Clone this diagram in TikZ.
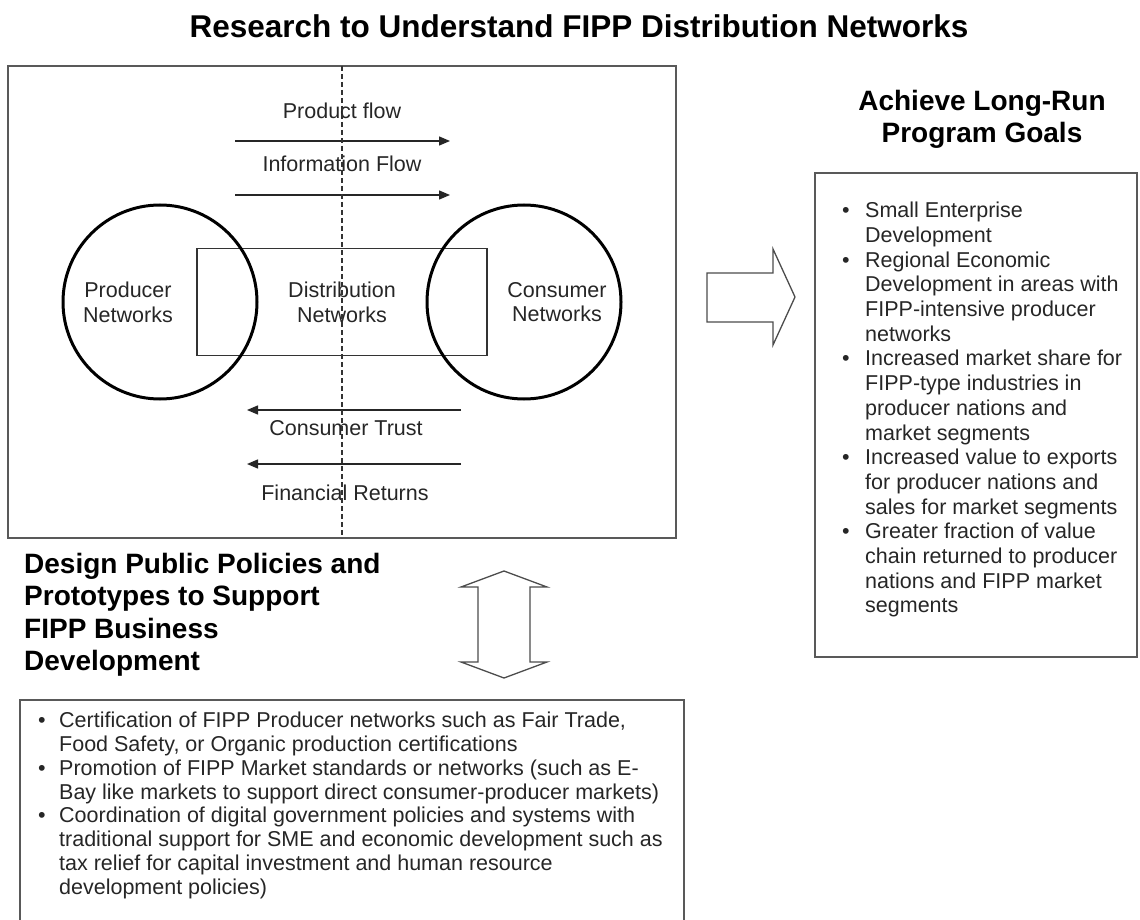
\documentclass[tikz,border=0pt]{standalone}
\usepackage{fontspec}
\setmainfont{Liberation Sans}
\usetikzlibrary{arrows.meta}

\newcommand\bul{\makebox[23pt][l]{\textbullet}}
\newcommand\ind{\hspace*{23pt}}
\newcommand\bulb{\makebox[21pt][l]{\textbullet}}
\newcommand\indb{\hspace*{21pt}}

\begin{document}
\begin{tikzpicture}
  [x=1pt,y=-1pt,
   every node/.style={inner sep=0pt,text=black!85},
   body/.style={font=\fontsize{21.5}{24.7}\selectfont},
   bodyb/.style={font=\fontsize{21.5}{23.8}\selectfont},
   head/.style={font=\fontsize{28}{32.3}\selectfont\bfseries,text=black},
   flow/.style={line width=1.4pt,black!85,-{Triangle[length=11pt,width=9pt]}},
   net/.style={circle,draw=black,line width=3pt,minimum size=194pt},
   frame/.style={draw=black!65,line width=2pt},
   fat/.style={draw=black!70,line width=1.3pt,line join=miter}]
  \clip (0,0) rectangle (1140,920);

  \node[font=\fontsize{31.5}{36}\selectfont\bfseries,text=black,anchor=base] (title) at (579,38)
    {Research to Understand FIPP Distribution Networks};

  % research box
  \draw[frame] (8,66) rectangle (676,538);
  \node[body,draw=black!80,line width=1.3pt,minimum width=290pt,minimum height=107pt,align=center]
    (dist) at (342,302) {Distribution\\Networks};
  \node[net] (prodc) at (160,302) {};
  \node[net] (consc) at (524,302) {};
  \node[body,align=center] (prod) at (128,302) {Producer\\Networks};
  \node[body,align=center] (cons) at (557,302) {Consumer\\Networks};

  \coordinate (pf0) at (235,141); \coordinate (pf1) at (450,141);
  \coordinate (if0) at (235,195); \coordinate (if1) at (450,195);
  \coordinate (ct0) at (461,410); \coordinate (ct1) at (247,410);
  \coordinate (fr0) at (461,464); \coordinate (fr1) at (247,464);
  \foreach \from/\to in {pf0/pf1,if0/if1,ct0/ct1,fr0/fr1}
    \draw[flow] (\from) -- (\to);

  \node[body] (pflow) at (342,111) {Product flow};
  \node[body] (iflow) at (342,164) {Information Flow};
  \node[body] (trust) at (346,428) {Consumer Trust};
  \node[body] (returns) at (345,493) {Financial Returns};

  \coordinate (cut0) at (342,66); \coordinate (cut1) at (342,538);
  \draw[black!80,line width=1.2pt,dash pattern=on 5pt off 3pt] (cut0) -- (cut1);

  % goals
  \node[head,align=center] (goalhd) at (982,119) {Achieve Long-Run\\Program Goals};
  \draw[fat] (707,273) -- (773,273) -- (773,249) -- (795,297) -- (773,345) -- (773,322) -- (707,322) -- cycle;
  \draw[frame] (815,173) rectangle (1137,657);
  \node[body,align=left,anchor=north west] (goals) at (842,202)
    {\bul Small Enterprise\\
     \ind Development\\
     \bul Regional Economic\\
     \ind Development in areas with\\
     \ind FIPP-intensive producer\\
     \ind networks\\
     \bul Increased market share for\\
     \ind FIPP-type industries in\\
     \ind producer nations and\\
     \ind market segments\\
     \bul Increased value to exports\\
     \ind for producer nations and\\
     \ind sales for market segments\\
     \bul Greater fraction of value\\
     \ind chain returned to producer\\
     \ind nations and FIPP market\\
     \ind segments};

  % policies
  \node[head,align=left,anchor=north west] (policyhd) at (24,553)
    {Design Public Policies and\\Prototypes to Support\\FIPP Business\\Development};
  \draw[fat] (504,571) -- (547,587) -- (530,587) -- (530,662) -- (547,662) -- (504,678)
    -- (461,662) -- (478,662) -- (478,587) -- (461,587) -- cycle;
  \draw[frame] (20,700) rectangle (684,930);
  \node[bodyb,align=left,anchor=north west] (policies) at (38,712)
    {\bulb Certification of FIPP Producer networks such as Fair Trade,\\
     \indb Food Safety, or Organic production certifications\\
     \bulb Promotion of FIPP Market standards or networks (such as E-\\
     \indb Bay like markets to support direct consumer-producer markets)\\
     \bulb Coordination of digital government policies and systems with\\
     \indb traditional support for SME and economic development such as\\
     \indb tax relief for capital investment and human resource\\
     \indb development policies)};
\end{tikzpicture}
\end{document}
